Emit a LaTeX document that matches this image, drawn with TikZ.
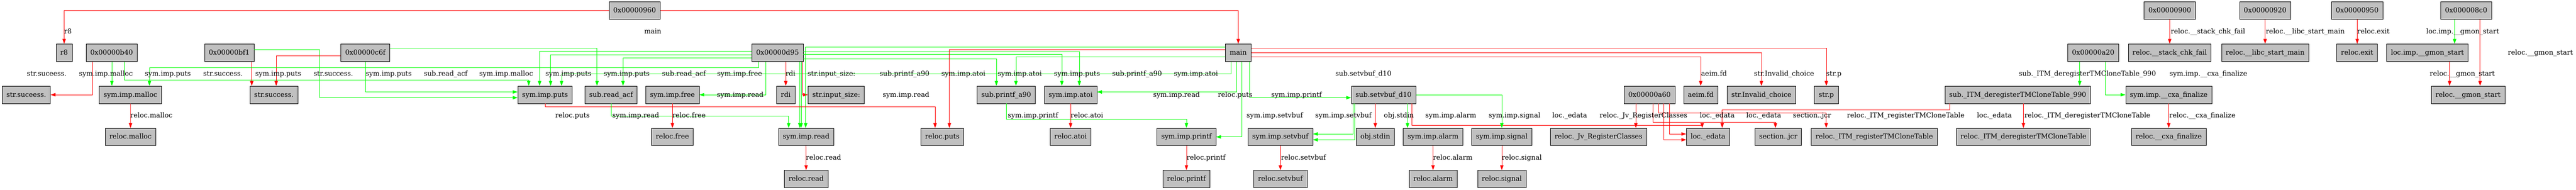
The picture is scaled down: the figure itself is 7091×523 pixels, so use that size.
\documentclass[tikz,border=0pt]{standalone}
\usepackage{fontspec}
\setmainfont{DejaVu Serif}
\usetikzlibrary{arrows.meta}
\definecolor{boxgray}{RGB}{192,192,192}
\definecolor{edgered}{RGB}{255,0,0}
\definecolor{edgegreen}{RGB}{0,255,0}
\begin{document}
\begin{tikzpicture}[x=0.75pt,y=-0.75pt,font=\fontsize{14}{16}\selectfont,
  box/.style={draw=black,line width=0.8pt,fill=boxgray,minimum height=36pt,inner xsep=8.8pt,inner ysep=0pt,text height=11pt,text depth=2.5pt},
  lbl/.style={inner sep=0pt,text height=11pt,text depth=2.5pt},
  re/.style={draw=edgered,line width=0.8pt,-{Triangle[length=10pt,width=7pt]}},
  ge/.style={draw=edgegreen,line width=0.8pt,-{Triangle[length=10pt,width=7pt]}}]
\useasboundingbox (0,0) rectangle (7091,523);
% row 0
\node[box] (n960) at (1747,29) {0x00000960};
\node[box] (n900) at (5972.7,29) {0x00000900};
\node[box] (n920) at (6235.2,29) {0x00000920};
\node[box] (n950) at (6488.7,29) {0x00000950};
\node[box] (n8c0) at (6788.5,29) {0x000008c0};
% row 1
\node[box] (r8) at (176.6,145) {r8};
\node[box] (b40) at (307.3,145) {0x00000b40};
\node[box] (bf1) at (631,145) {0x00000bf1};
\node[box] (c6f) at (1005.8,145) {0x00000c6f};
\node[box] (d95) at (2140.4,145) {0x00000d95};
\node[box] (main) at (3408.5,145) {main};
\node[box] (a20) at (5762,145) {0x00000a20};
\node[box] (stackchk) at (5972.5,145) {reloc.\_\_stack\_chk\_fail};
\node[box] (libcstart) at (6235.2,145) {reloc.\_\_libc\_start\_main};
\node[box] (rexit) at (6488.5,145) {reloc.exit};
\node[box] (limpgmon) at (6681.9,145) {loc.imp.\_\_gmon\_start};
% row 2
\node[box] (strsuceess) at (72.3,261) {str.suceess.};
\node[box] (symmalloc) at (359.1,261) {sym.imp.malloc};
\node[box] (strsuccess) at (753.8,261) {str.success.};
\node[box] (symputs) at (1500.3,261) {sym.imp.puts};
\node[box] (subreadacf) at (1682,261) {sub.read\_acf};
\node[box] (symfree) at (1851,261) {sym.imp.free};
\node[box] (rdi) at (2163,261) {rdi};
\node[box] (strinput) at (2302,261) {str.input\_size:};
\node[box] (subprintf) at (2769.8,261) {sub.printf\_a90};
\node[box] (symatoi) at (2947,261) {sym.imp.atoi};
\node[box] (subsetvbuf) at (3808.6,261) {sub.setvbuf\_d10};
\node[box] (a60) at (4540.6,261) {0x00000a60};
\node[box] (aeimfd) at (4681.6,261) {aeim.fd};
\node[box] (strinvalid) at (4848.6,261) {str.Invalid\_choice};
\node[box] (strp) at (5027.3,261) {str.p};
\node[box] (dereg) at (5554,261) {sub.\_ITM\_deregisterTMCloneTable\_990};
\node[box] (cxafin) at (5970,261) {sym.imp.\_\_cxa\_finalize};
\node[box] (rgmon) at (6793.8,261) {reloc.\_\_gmon\_start};
% row 3
\node[box] (relmalloc) at (359.3,377) {reloc.malloc};
\node[box] (relfree) at (1851,377) {reloc.free};
\node[box] (symread) at (2219,377) {sym.imp.read};
\node[box] (relputs) at (2593.8,377) {reloc.puts};
\node[box] (relatoi) at (2947,377) {reloc.atoi};
\node[box] (symprintf) at (3265.9,377) {sym.imp.printf};
\node[box] (symsetvbuf) at (3524.5,377) {sym.imp.setvbuf};
\node[box] (objstdin) at (3785.8,377) {obj.stdin};
\node[box] (symalarm) at (3944.7,377) {sym.imp.alarm};
\node[box] (symsignal) at (4134,377) {sym.imp.signal};
\node[box] (reljv) at (4400.4,377) {reloc.\_Jv\_RegisterClasses};
\node[box] (locedata) at (4701.7,377) {loc.\_edata};
\node[box] (secjcr) at (4895,377) {section..jcr};
\node[box] (relitmreg) at (5159.3,377) {reloc.\_ITM\_registerTMCloneTable};
\node[box] (relitmdereg) at (5569.8,377) {reloc.\_ITM\_deregisterTMCloneTable};
\node[box] (relcxa) at (5969.8,377) {reloc.\_\_cxa\_finalize};
% row 4
\node[box] (relread) at (2219,493) {reloc.read};
\node[box] (relprintf) at (3265.9,493) {reloc.printf};
\node[box] (relsetvbuf) at (3524.5,493) {reloc.setvbuf};
\node[box] (relalarm) at (3944.7,493) {reloc.alarm};
\node[box] (relsignal) at (4134,493) {reloc.signal};

% edges
\draw[re] (n960.west) -| (r8.north);
\draw[re] (n960.east) -| (main.north);
\draw[re] (b40.south -| 254.9,0) |- (strsuceess.east);
\draw[ge] (b40.south -| 308,0) -- (symmalloc.north -| 308,0);
\draw[ge] (b40.south -| 342.9,0) |- (1455.5,221) -- (symputs.north -| 1455.5,0);
\draw[re] (bf1.south -| 693,0) -- (strsuccess.north -| 693,0);
\draw[ge] (bf1.east |- 0,137) -| (880,269) -- (symputs.west |- 0,269);
\draw[re] (c6f.west |- 0,153) -| (strsuccess.north -| 760.3,0);
\draw[ge] (c6f.south) |- (symputs.west |- 0,253.3);
\draw[ge] (c6f.east |- 0,132) -| (subreadacf.north -| 1643.4,0);
\draw[ge] (d95.south -| 2088.8,0) |- (411.4,186.3) -- (symmalloc.north -| 411.4,0);
\draw[ge] (d95.west |- 0,141.3) -| (symputs.north -| 1485.4,0);
\draw[ge] (d95.west |- 0,150.7) -| (symputs.north -| 1515.6,0);
\draw[ge] (main.south -| 3388.2,0) |- (1545.8,204) -- (symputs.north -| 1545.8,0);
\draw[ge] (d95.west |- 0,160) -| (subreadacf.north -| 1715,0);
\draw[ge] (d95.south -| 2107.9,0) |- (symfree.east);
\draw[re] (d95.south -| 2163,0) -- (rdi.north);
\draw[ge] (d95.south -| 2201.6,0) -- (symread.north -| 2201.6,0);
\draw[ge] (d95.south -| 2205.2,0) -- (symread.north -| 2205.2,0);
\draw[re] (d95.south -| 2208.4,0) |- (strinput.west);
\draw[ge] (main.west |- 0,129.3) -| (symread.north -| 2217.7,0);
\draw[ge] (d95.east |- 0,142.7) -| (symatoi.north -| 2971,0);
\draw[ge] (d95.east |- 0,149.3) -| (symatoi.north -| 2923,0);
\draw[ge] (d95.east |- 0,162.7) -| (subprintf.north -| 2742.7,0);
\draw[ge] (main.west |- 0,156) -| (subprintf.north -| 2796.6,0);
\draw[re] (main.west |- 0,136) -| (relputs.north -| 2613.3,0);
\draw[re] (symputs.south) |- (2574,294.3) -- (relputs.north -| 2574,0);
\draw[ge] (subreadacf.south) |- (2171,319.3) -- (symread.north -| 2171,0);
\draw[re] (symfree.south) -- (relfree.north);
\draw[re] (symread.south) -- (relread.north);
\draw[re] (symmalloc.south) -- (relmalloc.north);
\draw[ge] (subprintf.south) |- (3265.9,327.7) -- (symprintf.north);
\draw[re] (symatoi.south) -- (relatoi.north);
\draw[ge] (main.south -| 3403.5,0) |- (symatoi.east |- 0,253.3);
\draw[ge] (main.south -| 3418.8,0) |- (symprintf.east);
\draw[ge] (main.south -| 3439.8,0) |- (subsetvbuf.west |- 0,269);
\draw[re] (main.east |- 0,133) -| (strp.north);
\draw[re] (main.east) -| (strinvalid.north);
\draw[re] (main.east |- 0,157) -| (aeimfd.north);
\draw[re] (symprintf.south) -- (relprintf.north);
\draw[re] (symsetvbuf.south) -- (relsetvbuf.north);
\draw[ge] (subsetvbuf.south -| 3724,0) |- (symsetvbuf.east |- 0,369);
\draw[ge] (subsetvbuf.south -| 3728.7,0) |- (symsetvbuf.east |- 0,385);
\draw[re] (subsetvbuf.south -| 3785.8,0) -- (objstdin.north);
\draw[ge] (subsetvbuf.south -| 3874.4,0) -- (symalarm.north -| 3874.4,0);
\draw[re] (subsetvbuf.south -| 3886.3,0) |- (4685.6,345) -- (locedata.north -| 4685.6,0);
\draw[ge] (subsetvbuf.east) -| (symsignal.north);
\draw[re] (symalarm.south) -- (relalarm.north);
\draw[re] (symsignal.south) -- (relsignal.north);
\draw[re] (a60.south -| 4503,0) -- (reljv.north -| 4503,0);
\draw[re] (a60.south -| 4550.5,0) |- (4887.2,337) -- (secjcr.north -| 4887.2,0);
\draw[re] (a60.south -| 4565.5,0) |- (5027,311.7) -- (relitmreg.north -| 5027,0);
\draw[re] (a60.south -| 4580.4,0) |- (locedata.west |- 0,385);
\draw[re] (a60.south -| 4595.3,0) |- (locedata.west |- 0,369);
\draw[re] (dereg.south -| 5366.6,0) |- (4740.7,302.3) -- (locedata.north -| 4740.7,0);
\draw[re] (dereg.south -| 5569.8,0) -- (relitmdereg.north);
\draw[ge] (a20.south -| 5724.8,0) -- (dereg.north -| 5724.8,0);
\draw[ge] (a20.south -| 5794.8,0) |- (cxafin.west);
\draw[re] (cxafin.south -| 5969.8,0) -- (relcxa.north);
\draw[re] (n900.south) -- (stackchk.north);
\draw[re] (n920.south) -- (libcstart.north);
\draw[re] (n950.south) -- (rexit.north -| n950.south);
\draw[ge] (n8c0.south -| 6756.8,0) -- (limpgmon.north -| 6756.8,0);
\draw[re] (n8c0.south -| 6826.9,0) -- (rgmon.north -| 6826.9,0);
\draw[re] (limpgmon.south -| 6743,0) -- (rgmon.north -| 6743,0);

% labels
\node[lbl] (l1) at (187,87) {r8};
\node[lbl] (l2) at (1797,87) {main};
\node[lbl] (l3) at (6078,87) {reloc.\_\_stack\_chk\_fail};
\node[lbl] (l4) at (6345.8,87) {reloc.\_\_libc\_start\_main};
\node[lbl] (l5) at (6533.5,87) {reloc.exit};
\node[lbl] (l6) at (6779,87) {loc.imp.\_\_gmon\_start};
\node[lbl] (l7) at (6993,145) {reloc.\_\_gmon\_start};
\node[lbl] (m1) at (128.6,203) {str.suceess.};
\node[lbl] (m2) at (291.5,203) {sym.imp.malloc};
\node[lbl] (m3) at (462,203) {sym.imp.puts};
\node[lbl] (m4) at (614,203) {str.success.};
\node[lbl] (m5) at (766,203) {sym.imp.puts};
\node[lbl] (m6) at (917.6,203) {str.success.};
\node[lbl] (m7) at (1070,203) {sym.imp.puts};
\node[lbl] (m8) at (1227,203) {sub.read\_acf};
\node[lbl] (m9) at (1393.5,203) {sym.imp.malloc};
\node[lbl] (m10) at (1564.8,203) {sym.imp.puts};
\node[lbl] (m11) at (1725,203) {sym.imp.puts};
\node[lbl] (m12) at (1882.6,203) {sub.read\_acf};
\node[lbl] (m13) at (2036,203) {sym.imp.free};
\node[lbl] (m14) at (2176,203) {rdi};
\node[lbl] (m15) at (2289,203) {str.input\_size:};
\node[lbl] (m16) at (2490,203) {sub.printf\_a90};
\node[lbl] (m17) at (2652,203) {sym.imp.atoi};
\node[lbl] (m18) at (2807,203) {sym.imp.atoi};
\node[lbl] (m19) at (2964.7,203) {sym.imp.puts};
\node[lbl] (m20) at (3130,203) {sub.printf\_a90};
\node[lbl] (m21) at (3292,203) {sym.imp.atoi};
\node[lbl] (m22) at (3753,203) {sub.setvbuf\_d10};
\node[lbl] (m23) at (4718,203) {aeim.fd};
\node[lbl] (m24) at (4911,203) {str.Invalid\_choice};
\node[lbl] (m25) at (5048,203) {str.p};
\node[lbl] (m26) at (5746,203) {sub.\_ITM\_deregisterTMCloneTable\_990};
\node[lbl] (m27) at (6079,203) {sym.imp.\_\_cxa\_finalize};
\node[lbl] (m28) at (6778,203) {reloc.\_\_gmon\_start};
\node[lbl] (k1) at (2037.7,261) {sym.imp.read};
\node[lbl] (k2) at (2494,261) {sym.imp.read};
\node[lbl] (k3) at (3238.5,261) {sym.imp.read};
\node[lbl] (k4) at (3400,261) {reloc.puts};
\node[lbl] (k5) at (3569,261) {sym.imp.printf};
\node[lbl] (p1) at (416.8,319) {reloc.malloc};
\node[lbl] (p2) at (1576,319) {reloc.puts};
\node[lbl] (p3) at (1750,319) {sym.imp.read};
\node[lbl] (p4) at (1896.7,319) {reloc.free};
\node[lbl] (p5) at (2843.5,319) {sym.imp.printf};
\node[lbl] (p6) at (2992,319) {reloc.atoi};
\node[lbl] (p7) at (3509,319) {sym.imp.setvbuf};
\node[lbl] (p8) at (3698,319) {sym.imp.setvbuf};
\node[lbl] (p9) at (3850.5,319) {obj.stdin};
\node[lbl] (p10) at (3993.7,319) {sym.imp.alarm};
\node[lbl] (p11) at (4169,319) {sym.imp.signal};
\node[lbl] (p12) at (4321,319) {loc.\_edata};
\node[lbl] (p13) at (4524,319) {reloc.\_Jv\_RegisterClasses};
\node[lbl] (p14) at (4727,319) {loc.\_edata};
\node[lbl] (p15) at (4855,319) {loc.\_edata};
\node[lbl] (p16) at (4988,319) {section..jcr};
\node[lbl] (p17) at (5246,319) {reloc.\_ITM\_registerTMCloneTable};
\node[lbl] (p18) at (5490,319) {loc.\_edata};
\node[lbl] (p19) at (5746,319) {reloc.\_ITM\_deregisterTMCloneTable};
\node[lbl] (p20) at (6062.6,319) {reloc.\_\_cxa\_finalize};
\node[lbl] (q1) at (2267,435) {reloc.read};
\node[lbl] (q2) at (3320,435) {reloc.printf};
\node[lbl] (q3) at (3588,435) {reloc.setvbuf};
\node[lbl] (q4) at (3999,435) {reloc.alarm};
\node[lbl] (q5) at (4189,435) {reloc.signal};
\end{tikzpicture}
\end{document}
